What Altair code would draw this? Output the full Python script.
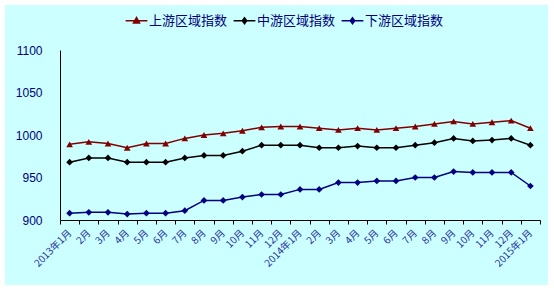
import altair as alt
import pandas as pd

# ---- data ----
months = (["2013年%d月" % m for m in range(1, 13)]
          + ["2014年%d月" % m for m in range(1, 13)]
          + ["2015年1月"])
series_names = ["上游区域指数", "中游区域指数", "下游区域指数"]
upper = [989, 992, 990, 985, 990, 990, 996, 1000, 1002, 1005, 1009, 1010, 1010,
         1008, 1006, 1008, 1006, 1008, 1010, 1013, 1016, 1013, 1015, 1017, 1008]
middle = [968, 973, 973, 968, 968, 968, 973, 976, 976, 981, 988, 988, 988,
          985, 985, 987, 985, 985, 988, 991, 996, 993, 994, 996, 988]
lower = [908, 909, 909, 907, 908, 908, 911, 923, 923, 927, 930, 930, 936,
         936, 944, 944, 946, 946, 950, 950, 957, 956, 956, 956, 940]
y_ticks = [900, 950, 1000, 1050, 1100]
colors = ["#800000", "#000000", "#000080"]
marker_shapes = ["triangle-up", "diamond", "diamond"]

rows = []
for name, vals in zip(series_names, [upper, middle, lower]):
    for m, v in zip(months, vals):
        rows.append({"month": m, "series": name, "value": v})
df = pd.DataFrame(rows)

FONT_CJK = "Noto Sans CJK SC"
NAVY = "#000080"

x_enc = alt.X(
    "month:N", sort=months,
    scale=alt.Scale(type="band", paddingInner=0, paddingOuter=0),
    axis=alt.Axis(
        title=None, grid=False, tickBand="extent", ticks=True, tickSize=4,
        tickColor="black", domainColor="black", labelAngle=-45,
        labelAlign="right", labelBaseline="middle", labelPadding=7,
        labelFont=FONT_CJK, labelFontSize=10, labelColor="#1f2fa0",
        labelOverlap=False, zindex=2,
        labelExpr="indexof(datum.label, '年1月') > 0 ? datum.label : split(datum.label, '年')[1]",
    ),
)
y_enc = alt.Y(
    "value:Q",
    scale=alt.Scale(domain=[900, 1100], nice=False, zero=False),
    axis=alt.Axis(
        title=None, grid=False, values=y_ticks, ticks=False, format="d",
        domainColor="black", labelPadding=18, labelFont="Liberation Sans",
        labelFontSize=12, labelColor=NAVY, zindex=2,
    ),
)

base = alt.Chart(df).encode(x=x_enc, y=y_enc)

bg = alt.Chart(pd.DataFrame({"a": [0]})).mark_rect(color="#CCFFFF").encode(
    x=alt.value(-55), x2=alt.value(488), y=alt.value(-45), y2=alt.value(235)
)

layers = [bg]
for name, col, shp in zip(series_names, colors, marker_shapes):
    sub = base.transform_filter(alt.datum.series == name)
    layers.append(sub.mark_line(strokeWidth=1.5, color=col))
    layers.append(sub.mark_point(shape=shp, filled=True, size=45, opacity=1, color=col))

tri_path = ("M-2.6,0H2.6"
            "M0,-0.8L0.75,0.55L-0.75,0.55Z"
            "M0,-0.35L0.35,0.3L-0.35,0.3Z"
            "M0,-0.6V0.55")
dia_path = ("M-2.6,0H2.6"
            "M0,-0.75L0.55,0L0,0.75L-0.55,0Z"
            "M0,-0.75V0.75"
            "M-0.3,-0.3H0.3M-0.3,0.3H0.3")
legend_paths = [tri_path, dia_path, dia_path]
leg = alt.Legend(
    title=None, orient="none", legendX=70, legendY=-36, direction="horizontal",
    labelFont=FONT_CJK, labelFontSize=13, labelColor=NAVY, labelOffset=6,
    columnPadding=3, symbolSize=70, symbolStrokeWidth=1.3, symbolOpacity=1,
    zindex=2,
)
legend_layer = base.mark_point(filled=False, opacity=0).encode(
    color=alt.Color("series:N", scale=alt.Scale(domain=series_names, range=colors), legend=leg),
    shape=alt.Shape("series:N", scale=alt.Scale(domain=series_names, range=legend_paths), legend=leg),
)
layers.append(legend_layer)

chart = alt.layer(*layers).properties(
    width=480, height=170,
    autosize=alt.AutoSizeParams(type="none"),
    padding={"left": 60, "top": 50, "right": 14, "bottom": 70},
    background="white",
).configure_view(stroke=None)

chart.save("out.html", embed_options={"renderer": "svg", "actions": False})
